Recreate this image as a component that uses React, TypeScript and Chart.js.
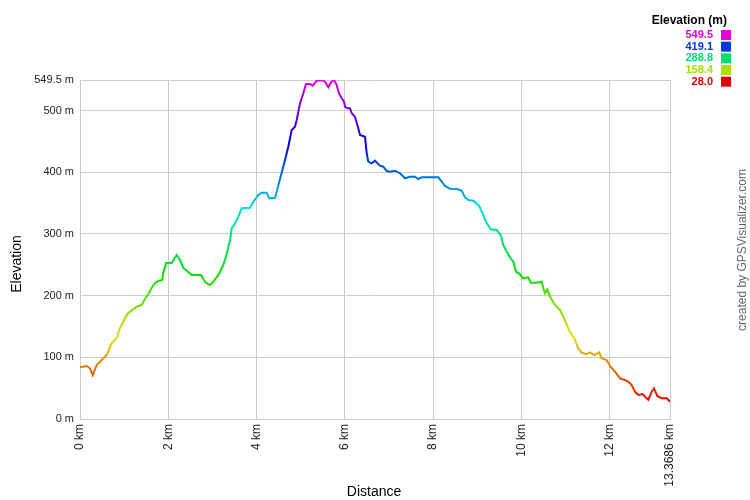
import React, { useEffect, useRef } from "react";
import { Chart, registerables } from "chart.js";

Chart.register(...registerables);

const distanceKm: number[] = [
  0, 0.152, 0.227, 0.288, 0.378, 0.492, 0.605, 0.718, 0.832, 0.906, 1.02, 1.094, 1.285, 1.398, 1.473, 1.563,
  1.625, 1.699, 1.79, 1.865, 1.887, 1.949, 2.078, 2.191, 2.266, 2.341, 2.454, 2.531, 2.742, 2.832, 2.907,
  2.946, 3.02, 3.134, 3.172, 3.247, 3.324, 3.399, 3.437, 3.512, 3.587, 3.664, 3.852, 3.927, 4.04, 4.117,
  4.23, 4.289, 4.418, 4.457, 4.532, 4.645, 4.72, 4.797, 4.871, 4.91, 4.985, 5.06, 5.121, 5.211, 5.273,
  5.363, 5.477, 5.551, 5.626, 5.68, 5.755, 5.816, 5.868, 5.93, 5.982, 6.005, 6.056, 6.118, 6.156, 6.231,
  6.306, 6.344, 6.458, 6.496, 6.532, 6.609, 6.684, 6.797, 6.872, 6.949, 7.024, 7.137, 7.251, 7.364, 7.477,
  7.591, 7.665, 7.742, 7.93, 8.118, 8.196, 8.27, 8.384, 8.535, 8.649, 8.723, 8.798, 8.912, 9.047, 9.102,
  9.199, 9.306, 9.442, 9.532, 9.591, 9.668, 9.743, 9.818, 9.879, 9.97, 10.044, 10.158, 10.212, 10.332,
  10.461, 10.498, 10.536, 10.588, 10.649, 10.763, 10.876, 10.951, 11.064, 11.102, 11.216, 11.291, 11.368,
  11.465, 11.556, 11.653, 11.766, 11.821, 11.934, 12.009, 12.122, 12.235, 12.349, 12.423, 12.5, 12.575,
  12.65, 12.75, 12.802, 12.877, 12.954, 13.006, 13.081, 13.181, 13.294, 13.3686,
];

const elevationM: number[] = [
  83.8, 85.9, 82.2, 71.3, 87.5, 95.6, 103.7, 123.2, 131.3, 147.5, 163.7, 171.8, 182.0, 184.8, 194.5, 204.2,
  212.8, 220.4, 224.2, 225.3, 236.7, 252.9, 252.9, 265.8, 257.7, 244.8, 238.3, 233.4, 233.4, 222.6, 218.3,
  217.2, 222.6, 233.4, 238.8, 249.6, 267.4, 290.1, 309.1, 317.2, 327.9, 341.5, 342.5, 352.2, 363.1, 366.8,
  366.8, 357.7, 358.7, 368.4, 389.0, 419.8, 441.4, 468.4, 473.8, 484.7, 511.7, 527.9, 543.0, 543.0, 540.3,
  548.4, 549.5, 546.7, 537.7, 545.1, 549.5, 541.4, 527.9, 519.8, 514.3, 506.2, 503.6, 503.6, 495.5, 490.0,
  471.2, 460.3, 457.6, 430.7, 417.1, 414.5, 418.7, 410.6, 409.0, 402.0, 400.9, 402.5, 398.3, 390.2, 392.7,
  392.7, 389.0, 391.8, 391.8, 391.8, 384.6, 377.7, 373.3, 372.8, 370.1, 359.4, 355.0, 353.8, 345.3, 336.0,
  319.8, 307.5, 306.4, 298.2, 282.0, 271.2, 262.1, 255.0, 238.8, 234.5, 228.1, 229.7, 220.9, 220.9,
  222.6, 211.9, 203.7, 210.2, 198.3, 184.8, 176.7, 165.8, 147.0, 141.5, 128.1, 114.6, 107.5,
  104.9, 108.1, 103.7, 108.1, 98.4, 95.6, 85.9, 76.7, 66.0, 63.2, 60.5, 55.1, 44.3,
  38.9, 40.5, 36.2, 31.0, 44.3, 49.8, 37.3, 33.6, 33.6, 28.0,
];

const xTickValues: number[] = [0, 2, 4, 6, 8, 10, 12, 13.3686];
const yTickValues: number[] = [0, 100, 200, 300, 400, 500, 549.5];
const legendValues: number[] = [549.5, 419.1, 288.8, 158.4, 28.0];
const minElev = 28.0;
const maxElev = 549.5;
const xMax = 13.3686;

function colorFor(v: number): string {
  const f = (v - minElev) / (maxElev - minElev);
  return `hsl(${Math.round(f * 300)},100%,44%)`;
}

const FONT = "Arial, 'Liberation Sans', sans-serif";

const overlayPlugin = {
  id: "overlayTexts",
  afterDraw(chart: any) {
    const c = chart.ctx as CanvasRenderingContext2D;
    c.save();
    c.fillStyle = "#000";
    c.font = `14px ${FONT}`;
    c.textAlign = "center";
    c.textBaseline = "middle";
    c.fillText("Distance", 374, 492);
    c.save();
    c.translate(17, 264);
    c.rotate(-Math.PI / 2);
    c.fillText("Elevation", 0, 0);
    c.restore();
    c.save();
    c.fillStyle = "#666";
    c.font = `12px ${FONT}`;
    c.translate(743, 250);
    c.rotate(-Math.PI / 2);
    c.fillText("created by GPSVisualizer.com", 0, 0);
    c.restore();
    c.textAlign = "right";
    c.fillStyle = "#000";
    c.font = `bold 12px ${FONT}`;
    c.fillText("Elevation (m)", 727, 21);
    c.font = `bold 11px ${FONT}`;
    legendValues.forEach((v, i) => {
      const y = 35 + i * 11.67;
      const col = colorFor(v);
      c.fillStyle = col;
      c.fillText(v.toFixed(1), 713, y);
      c.fillRect(721, y - 5, 10, 10);
    });
    c.restore();
  },
};

export default function App() {
  const ref = useRef<HTMLCanvasElement | null>(null);
  useEffect(() => {
    document.body.style.margin = "0";
    if (!ref.current) return;
    const pts = distanceKm.map((d, i) => ({ x: d, y: elevationM[i] }));
    const chart = new Chart(ref.current, {
      type: "line",
      data: {
        datasets: [
          {
            data: pts,
            borderWidth: 2,
            pointRadius: 0,
            tension: 0,
            fill: false,
            borderColor: (context: any) => {
              const ch = context.chart;
              const { ctx, chartArea, scales } = ch;
              if (!chartArea || !scales.y) return "#00e070";
              const y0 = scales.y.getPixelForValue(minElev);
              const y1 = scales.y.getPixelForValue(maxElev);
              const g = ctx.createLinearGradient(0, y0, 0, y1);
              for (let i = 0; i <= 10; i++) {
                g.addColorStop(i / 10, `hsl(${i * 30},100%,44%)`);
              }
              return g;
            },
          },
        ],
      },
      options: {
        responsive: false,
        animation: false,
        devicePixelRatio: 1,
        layout: { padding: { left: 0, right: 80, top: 80, bottom: 0 } },
        plugins: { legend: { display: false }, tooltip: { enabled: false }, title: { display: false } },
        scales: {
          x: {
            type: "linear",
            min: 0,
            max: xMax,
            afterBuildTicks: (scale: any) => {
              scale.ticks = xTickValues.map((v) => ({ value: v }));
            },
            afterFit: (scale: any) => {
              scale.height = 81;
            },
            grid: { color: "#cccccc", drawTicks: false, lineWidth: 1 },
            border: { color: "#cccccc" },
            ticks: {
              autoSkip: false,
              minRotation: 90,
              maxRotation: 90,
              padding: 5,
              color: "#222",
              font: { family: FONT, size: 12 },
              callback: (v: any) => (v === xMax ? "13.3686 km" : `${v} km`),
            },
          },
          y: {
            type: "linear",
            min: 0,
            max: maxElev,
            afterBuildTicks: (scale: any) => {
              scale.ticks = yTickValues.map((v) => ({ value: v }));
            },
            afterFit: (scale: any) => {
              scale.width = 80;
            },
            grid: { color: "#cccccc", drawTicks: false, lineWidth: 1 },
            border: { color: "#cccccc" },
            ticks: {
              autoSkip: false,
              padding: 6,
              color: "#222",
              font: { family: FONT, size: 11 },
              callback: (v: any) => `${v} m`,
            },
          },
        },
      },
      plugins: [overlayPlugin],
    } as any);
    return () => chart.destroy();
  }, []);
  return (
    <div style={{ width: 750, height: 500, background: "#fff" }}>
      <canvas ref={ref} width={750} height={500} style={{ display: "block" }} />
    </div>
  );
}
